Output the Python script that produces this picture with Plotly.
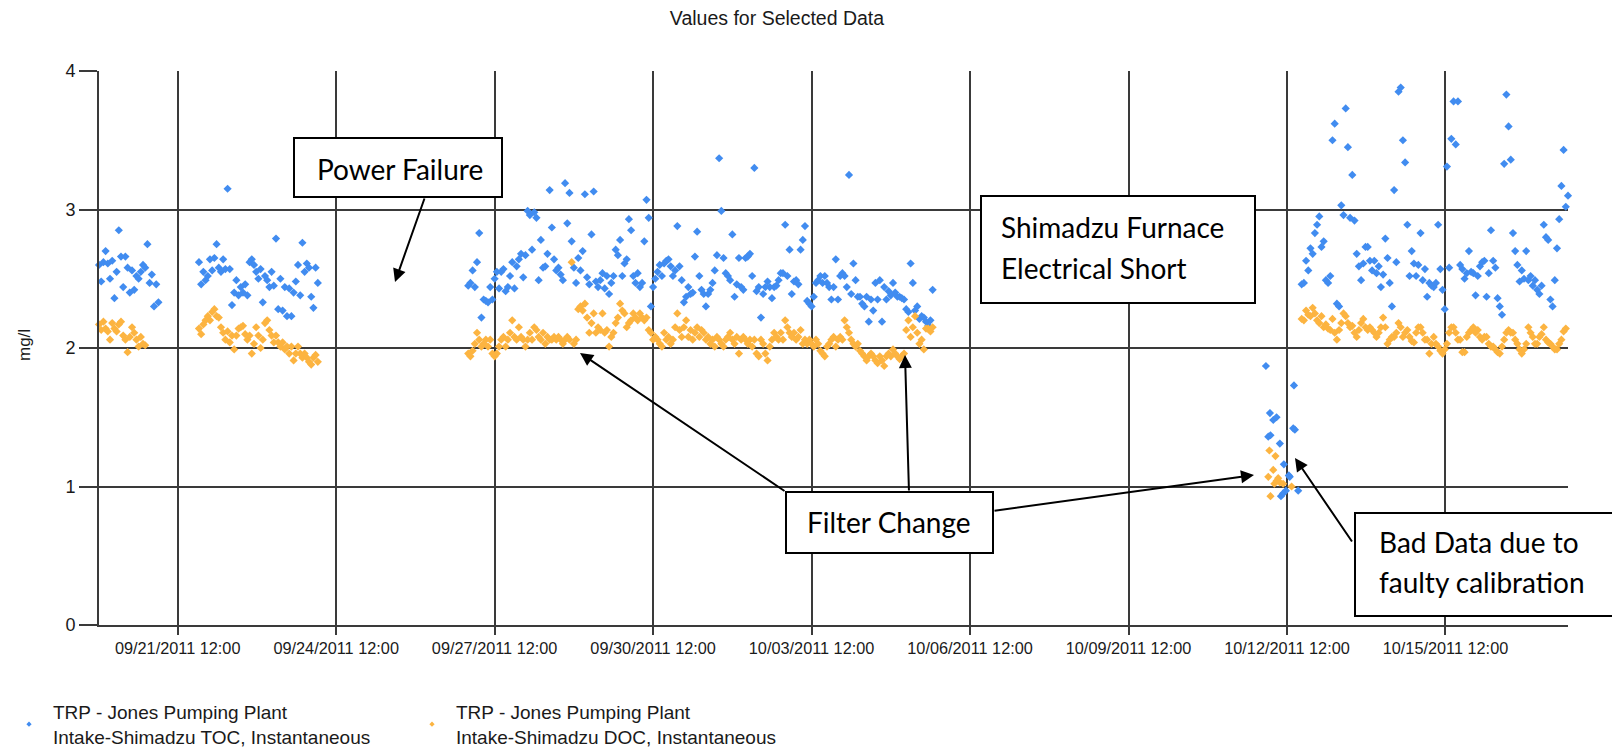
import plotly.graph_objects as go
import pandas as pd

# ------------------------------------------------------------------ data
# hourly segments: (start time, values)
toc_seg1_start = "2011-09-20 00:15"
toc_seg1 = [2.60, 2.48, 2.62, 2.70, 2.61, 2.50, 2.63, 2.36, 2.55, 2.85, 2.66, 2.44, 2.66, 2.58,
            2.40, 2.56, 2.42, 2.52, 2.50, 2.55, 2.60, 2.58, 2.75, 2.47, 2.53, 2.30, 2.46, 2.33]
doc_seg1_start = "2011-09-20 00:15"
doc_seg1 = [2.17, 2.13, 2.19, 2.14, 2.12, 2.06, 2.18, 2.14, 2.12, 2.17, 2.19, 2.09, 2.06, 1.97,
            2.08, 2.15, 2.11, 2.06, 2.01, 2.08, 2.03, 2.02]

seg2_start = "2011-09-21 21:40"
toc_seg2 = [2.62, 2.46, 2.55, 2.49, 2.52, 2.64, 2.56, 2.65, 2.75, 2.58, 2.55, 2.64, 2.57, 3.15,
            2.57, 2.31, 2.40, 2.49, 2.38, 2.44, 2.40, 2.46, 2.38, 2.62, 2.64, 2.60, 2.55, 2.50,
            2.57, 2.33, 2.52, 2.49, 2.44, 2.55, 2.45, 2.79, 2.28, 2.50, 2.27, 2.44, 2.23, 2.43,
            2.23, 2.40, 2.48, 2.60, 2.38, 2.76, 2.55, 2.61, 2.58, 2.37, 2.29, 2.58, 2.47]
doc_seg2 = [2.14, 2.10, 2.17, 2.20, 2.23, 2.20, 2.26, 2.28, 2.23, 2.22, 2.15, 2.11, 2.06, 2.12,
            2.04, 2.09, 1.99, 2.09, 2.14, 2.15, 2.16, 2.10, 2.06, 2.09, 1.96, 2.03, 2.15, 2.09,
            2.00, 2.06, 2.18, 2.20, 2.13, 2.09, 2.04, 2.09, 2.04, 2.01, 2.04, 1.99, 2.01, 1.96,
            2.01, 1.91, 1.96, 2.01, 1.96, 1.93, 1.96, 1.93, 1.90, 1.88, 1.93, 1.95, 1.90]

seg3_start = "2011-09-27 00:00"
toc_seg3 = [2.45, 2.47, 2.56, 2.44, 2.62, 2.83, 2.22, 2.35, 2.34, 2.33,
            2.44, 2.35, 2.50, 2.55, 2.43, 2.55, 2.57, 2.41, 2.44, 2.52,
            2.62, 2.43, 2.59, 2.64, 2.68, 2.51, 2.67, 2.99, 2.96, 2.71,
            2.98, 2.94, 2.49, 2.78, 2.58, 2.59, 2.68, 3.14, 2.87, 2.64,
            2.56, 2.58, 2.53, 2.49, 3.19, 2.90, 3.12, 2.77, 2.58, 2.47,
            2.65, 2.56, 2.70, 3.11, 2.51, 2.46, 2.82, 3.13, 2.48, 2.44,
            2.49, 2.54, 2.43, 2.52, 2.39, 2.47, 2.52, 2.71, 2.67, 2.78,
            2.52, 2.61, 2.64, 2.93, 2.85, 2.52, 2.47, 2.54, 2.44, 2.47,
            2.77, 3.07, 2.94, 2.30, 2.44, 2.50, 2.55, 2.60, 2.52, 2.61,
            2.63, 2.64, 2.59, 2.52, 2.56, 2.88, 2.59, 2.49, 2.33, 2.37,
            2.44, 2.39, 2.40, 2.66, 2.84, 2.52, 2.42, 2.39, 2.30, 2.39,
            2.42, 2.47, 2.56, 2.67, 3.37, 2.99, 2.65, 2.54, 2.52, 2.49,
            2.82, 2.37, 2.46, 2.65, 2.44, 2.42, 2.65, 2.66, 2.68, 2.52,
            3.30, 2.41, 2.44, 2.22, 2.39, 2.44, 2.48, 2.44, 2.36, 2.44,
            2.45, 2.49, 2.54, 2.54, 2.89, 2.52, 2.71, 2.39, 2.48, 2.49,
            2.46, 2.71, 2.78, 2.88, 2.34, 2.32, 2.30, 2.37, 2.47, 2.49,
            2.52, 2.47, 2.52, 2.47, 2.44, 2.35, 2.44, 2.64, 2.35, 2.52,
            2.54, 2.52, 2.44, 3.25, 2.39, 2.61, 2.49, 2.37, 2.37, 2.32,
            2.30, 2.37, 2.19, 2.35, 2.27, 2.47, 2.35, 2.49, 2.19, 2.44,
            2.35, 2.41, 2.38, 2.47, 2.40, 2.37, 2.37, 2.36, 2.35, 2.28,
            2.26, 2.61, 2.47, 2.27, 2.30, 2.21, 2.23, 2.22, 2.19, 2.16, 2.20, 2.42]
doc_seg3 = [1.96, 1.94, 1.98, 2.03, 2.11, 2.06, 2.01, 2.03, 2.06, 2.01,
            2.06, 1.96, 1.94, 1.96, 2.01, 2.06, 2.08, 2.01, 2.06, 2.11,
            2.20, 2.08, 2.06, 2.15, 2.08, 2.06, 2.01, 2.06, 2.11, 2.06,
            2.15, 2.13, 2.08, 2.06, 2.11, 2.03, 2.08, 2.06, 2.06, 2.08,
            2.06, 2.08, 2.06, 2.03, 2.06, 2.08, 2.06, 2.62, 2.03, 2.06,
            2.28, 2.30, 2.27, 2.32, 2.22, 2.11, 2.18, 2.25, 2.11, 2.15,
            2.13, 2.25, 2.11, 2.13, 2.01, 2.08, 2.11, 2.18, 2.22, 2.32,
            2.27, 2.25, 2.15, 2.18, 2.20, 2.25, 2.22, 2.20, 2.25, 2.22,
            2.20, 2.22, 2.13, 2.11, 2.06, 2.08, 2.06, 2.03, 2.01, 2.11,
            2.06, 2.08, 2.03, 2.06, 2.15, 2.25, 2.13, 2.08, 2.15, 2.20,
            2.08, 2.13, 2.06, 2.11, 2.15, 2.08, 2.13, 2.11, 2.06, 2.08,
            2.03, 2.06, 2.01, 2.08, 2.06, 2.03, 2.01, 2.06, 2.08, 2.11,
            2.06, 2.03, 2.08, 1.96, 2.06, 2.08, 2.06, 2.03, 2.06, 2.01,
            2.06, 1.96, 1.94, 2.06, 2.03, 1.96, 1.91, 2.01, 2.06, 2.11,
            2.08, 2.06, 2.11, 2.06, 2.20, 2.15, 2.11, 2.08, 2.11, 2.06,
            2.08, 2.13, 2.03, 2.06, 2.03, 2.06, 2.03, 2.01, 2.06, 2.03,
            1.98, 1.96, 1.94, 2.01, 2.03, 2.06, 2.08, 2.01, 2.06, 2.08,
            2.06, 2.20, 2.15, 2.11, 2.06, 2.03, 2.01, 2.03, 1.98, 1.96,
            1.94, 1.91, 1.94, 1.96, 1.94, 1.91, 1.89, 1.94, 1.91, 1.87,
            1.94, 1.96, 1.94, 1.99, 1.96, 1.94, 1.92, 1.94, 1.96, 2.13,
            2.20, 2.08, 2.15, 2.23, 2.11, 2.03, 2.06, 1.99, 2.14, 2.14, 2.12, 2.15]

# calibration problem (irregular times)
toc_bad_times = ["2011-10-12 02:25", "2011-10-12 03:30", "2011-10-12 04:15", "2011-10-12 04:30",
                 "2011-10-12 05:45", "2011-10-12 07:15", "2011-10-12 08:45", "2011-10-12 09:15",
                 "2011-10-12 10:15", "2011-10-12 10:35", "2011-10-12 11:30", "2011-10-12 12:50",
                 "2011-10-12 13:15", "2011-10-12 14:50", "2011-10-12 15:10", "2011-10-12 15:35",
                 "2011-10-12 17:05"]
toc_bad = [1.87, 1.36, 1.53, 1.37, 1.48, 1.50, 1.31, 0.93, 0.95, 1.16, 0.97, 1.08, 1.07, 1.42,
           1.73, 1.41, 0.97]
doc_bad_times = ["2011-10-12 03:30", "2011-10-12 04:00", "2011-10-12 04:30", "2011-10-12 05:45",
                 "2011-10-12 06:15", "2011-10-12 06:45", "2011-10-12 07:15", "2011-10-12 08:00",
                 "2011-10-12 08:45", "2011-10-12 10:15", "2011-10-12 14:05"]
doc_bad = [1.07, 1.26, 0.93, 1.12, 1.02, 1.22, 1.04, 1.06, 1.03, 1.02, 1.00]

seg4_start = "2011-10-12 18:40"
toc_seg4 = [2.46, 2.47, 2.63, 2.56, 2.72, 2.68, 2.83, 2.89, 2.95, 2.73,
            2.77, 2.49, 2.47, 2.52, 3.50, 3.62, 2.32, 2.30, 3.03, 2.96,
            3.73, 3.45, 2.94, 3.25, 2.92, 2.68, 2.59, 2.49, 2.61, 2.73,
            2.73, 2.63, 2.56, 2.63, 2.54, 2.59, 2.44, 2.53, 2.79, 2.65,
            2.47, 2.30, 3.14, 2.62, 3.85, 3.88, 3.50, 3.34, 2.89, 2.52,
            2.70, 2.61, 2.52, 2.60, 2.83, 2.49, 2.57, 2.37, 2.47, 2.45,
            2.44, 2.47, 2.89, 2.57, 2.42, 2.28, 3.31, 2.58, 3.51, 3.78,
            3.47, 3.78, 2.60, 2.57, 2.50, 2.54, 2.70, 2.55, 2.54, 2.38,
            2.52, 2.59, 2.62, 2.63, 2.37, 2.54, 2.85, 2.63, 2.58, 2.36,
            2.30, 2.24, 3.33, 3.83, 3.60, 3.36, 2.83, 2.70, 2.60, 2.48,
            2.56, 2.50, 2.70, 2.49, 2.52, 2.45, 2.49, 2.42, 2.39, 2.45,
            2.89, 2.80, 2.78, 2.35, 2.30, 2.49, 2.72, 2.93, 3.17, 3.43,
            3.02, 3.10]
doc_seg4 = [2.21, 2.20, 2.27, 2.24, 2.23, 2.29, 2.25, 2.20, 2.18, 2.23,
            2.15, 2.17, 2.14, 2.13, 2.21, 2.11, 2.06, 2.13, 2.18, 2.25,
            2.23, 2.18, 2.15, 2.16, 2.11, 2.08, 2.13, 2.18, 2.21, 2.15,
            2.13, 2.15, 2.13, 2.11, 2.08, 2.11, 2.15, 2.22, 2.15, 2.03,
            2.06, 2.08, 2.08, 2.11, 2.18, 2.15, 2.08, 2.11, 2.13, 2.08,
            2.05, 2.04, 2.11, 2.15, 2.15, 2.11, 2.06, 2.06, 1.96, 2.03,
            2.08, 2.03, 2.01, 1.98, 1.96, 1.99, 2.03, 2.11, 2.15, 2.15,
            2.11, 2.06, 2.06, 1.97, 1.97, 2.08, 2.11, 2.13, 2.15, 2.11,
            2.13, 2.08, 2.06, 2.08, 2.08, 2.03, 2.01, 2.01, 1.99, 1.97,
            1.96, 2.01, 2.06, 2.11, 2.13, 2.11, 2.11, 2.06, 2.03, 1.99,
            1.96, 1.99, 2.03, 2.15, 2.11, 2.08, 2.03, 2.03, 2.08, 2.10,
            2.15, 2.06, 2.04, 2.03, 2.01, 1.99, 1.99, 2.03, 2.06, 2.12,
            2.14]

x_range = ["2011-09-20 00:15", "2011-10-17 19:40"]
tick_start = "2011-09-21 12:00"
tick_step_days = 3
y_ticks = [0, 1, 2, 3, 4]

toc_name = "TRP - Jones Pumping Plant<br>Intake-Shimadzu TOC, Instantaneous"
doc_name = "TRP - Jones Pumping Plant<br>Intake-Shimadzu DOC, Instantaneous"
title_text = "Values for Selected Data"
y_title = "mg/l"

BLUE = "#418CF0"
ORANGE = "#FCB441"
GRID = "#3a3a3a"


def hourly(start, vals):
    return list(pd.date_range(start, periods=len(vals), freq="h"))


toc_x = (hourly(toc_seg1_start, toc_seg1) + hourly(seg2_start, toc_seg2) +
         hourly(seg3_start, toc_seg3) + list(pd.to_datetime(toc_bad_times)) +
         hourly(seg4_start, toc_seg4))
toc_y = toc_seg1 + toc_seg2 + toc_seg3 + toc_bad + toc_seg4
doc_x = (hourly(doc_seg1_start, doc_seg1) + hourly(seg2_start, doc_seg2) +
         hourly(seg3_start, doc_seg3) + list(pd.to_datetime(doc_bad_times)) +
         hourly(seg4_start, doc_seg4))
doc_y = doc_seg1 + doc_seg2 + doc_seg3 + doc_bad + doc_seg4

# ------------------------------------------------------------------ layout geometry
W, H = 1612, 748
ML, MR, MT, MB = 99, 44, 71, 123
PW, PH = W - ML - MR, H - MT - MB


def px(xp):
    return (xp - ML) / PW


def py(yp):
    return (H - MB - yp) / PH


fig = go.Figure()
fig.add_trace(go.Scatter(x=toc_x, y=toc_y, mode="markers", showlegend=False,
                         marker=dict(symbol="diamond", size=6.3, color=BLUE),
                         cliponaxis=False))
fig.add_trace(go.Scatter(x=doc_x, y=doc_y, mode="markers", showlegend=False,
                         marker=dict(symbol="diamond", size=6.3, color=ORANGE),
                         cliponaxis=False))
# legend entries
fig.add_trace(go.Scatter(x=[None], y=[None], mode="markers", name=toc_name,
                         marker=dict(symbol="diamond", size=4, color=BLUE)))
fig.add_trace(go.Scatter(x=[None], y=[None], mode="markers", name=doc_name,
                         marker=dict(symbol="diamond", size=4, color=ORANGE)))

FONT = "Liberation Sans, Arial, sans-serif"
ANN_FONT = "Lato, Calibri, sans-serif"
ANN_SIZE = 28

shapes = []
annotations = []


def box(x0, y0, x1, y1):
    shapes.append(dict(type="rect", xref="paper", yref="paper",
                       x0=px(x0), x1=px(x1), y0=py(y1), y1=py(y0),
                       line=dict(color="black", width=2), fillcolor="white", layer="above"))


def label(text, xl, baseline):
    annotations.append(dict(text=text, xref="paper", yref="paper", x=px(xl),
                            y=py(baseline - 0.33 * ANN_SIZE), xanchor="left", yanchor="middle",
                            showarrow=False, font=dict(family=ANN_FONT, size=ANN_SIZE, color="black")))


def arrow(hx, hy, tx, ty):
    annotations.append(dict(text="", xref="paper", yref="paper", x=px(hx), y=py(hy),
                            axref="pixel", ayref="pixel", ax=tx - hx, ay=ty - hy,
                            showarrow=True, arrowhead=2, arrowsize=1.3, arrowwidth=2,
                            arrowcolor="black", standoff=0))


box(294, 138, 502, 197)
label("Power Failure", 315, 178)
box(981, 196, 1255, 303)
label("Shimadzu Furnace", 999, 236)
label("Electrical Short", 999, 277)
box(786, 492, 993, 553)
label("Filter Change", 805, 531)
box(1355, 513, 1660, 616)
label("Bad Data due to", 1377, 551)
label("faulty calibration", 1377, 591)

arrow(395, 282, 425, 197)
arrow(580, 353, 786, 492)
arrow(905, 355, 909, 492)
arrow(1254, 475, 993, 511)
arrow(1295, 458, 1353, 543)

annotations.append(dict(text=y_title, xref="paper", yref="paper", x=px(24), y=py(345),
                        textangle=-90, showarrow=False, xanchor="center", yanchor="middle",
                        font=dict(family=FONT, size=17, color="#1a1a1a")))

fig.update_layout(
    width=W, height=H,
    margin=dict(l=ML, r=MR, t=MT, b=MB, pad=0, autoexpand=False),
    paper_bgcolor="white", plot_bgcolor="white",
    title=dict(text=title_text, x=777 / W, xref="container", xanchor="center",
               y=1 - 18.5 / H, yref="container", yanchor="middle",
               font=dict(family=FONT, size=19.5, color="#1a1a1a")),
    showlegend=True,
    legend=dict(orientation="h", x=px(5), xanchor="left", y=py(693), yanchor="top",
                font=dict(family=FONT, size=19, color="#1a1a1a"), itemwidth=38,
                entrywidth=350, entrywidthmode="pixels", bgcolor="rgba(0,0,0,0)"),
    shapes=shapes, annotations=annotations,
    xaxis=dict(type="date", range=x_range, tickmode="linear", tick0=tick_start,
               dtick=tick_step_days * 86400000, tickformat="%m/%d/%Y %H:%M",
               showgrid=True, gridcolor=GRID, gridwidth=1.6,
               ticks="outside", ticklen=8, tickwidth=1.6, tickcolor=GRID,
               showline=True, linecolor=GRID, linewidth=1.6, zeroline=False,
               automargin=False,
               tickfont=dict(family=FONT, size=16.3, color="#1a1a1a")),
    yaxis=dict(range=[0, 4], tickvals=y_ticks, showgrid=True, gridcolor=GRID, gridwidth=1.6,
               ticks="outside", ticklen=18, tickwidth=1.6, tickcolor=GRID,
               showline=True, linecolor=GRID, linewidth=1.6, zeroline=False,
               automargin=False,
               tickfont=dict(family=FONT, size=18, color="#1a1a1a")),
)

fig.write_html("out.html", config={"displayModeBar": False},
               post_script="document.body.style.margin='0';document.body.style.overflow='hidden';")
